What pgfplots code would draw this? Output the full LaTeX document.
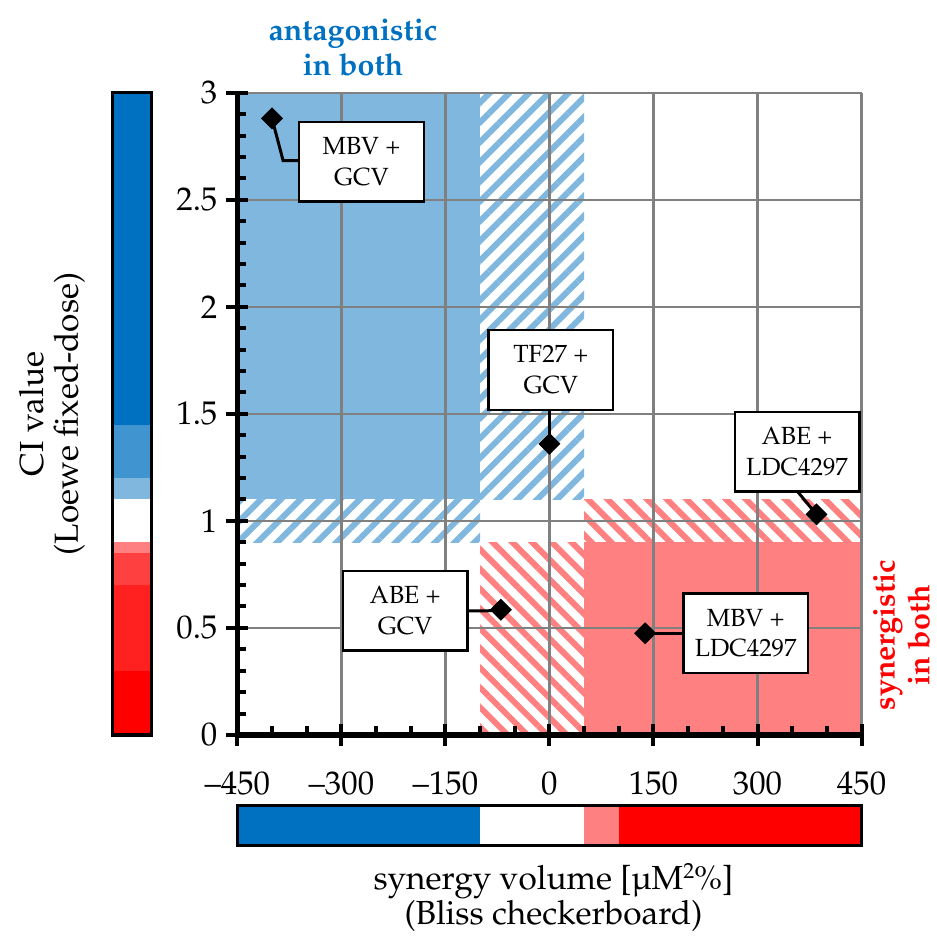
\documentclass[border=0pt]{standalone}
\usepackage[T1]{fontenc}
\usepackage{mathpazo}
\usepackage{pgfplots}
\pgfplotsset{compat=1.18}
\usetikzlibrary{patterns.meta}
\definecolor{cblue}{HTML}{0070C0}
\definecolor{lblue}{HTML}{7FB7DF}
\definecolor{mblue}{HTML}{4094D0}
\definecolor{lred}{HTML}{FF8080}
\definecolor{redb}{HTML}{FF4040}
\definecolor{redc}{HTML}{FF2020}
\definecolor{gridgray}{HTML}{808080}
\newcommand{\labfont}{\fontsize{16.8}{17.5}\selectfont}
\newcommand{\boldfont}{\fontsize{15.3}{17.5}\selectfont\bfseries}
\newcommand{\tickfont}{\fontsize{16.5}{18}\selectfont}
\newcommand{\boxfont}{\fontsize{12.5}{15.5}\selectfont}
\begin{document}
\begin{tikzpicture}
\path (0,0) rectangle (467bp,-469bp);
% main axis
\begin{axis}[
  set layers,
  at={(119bp,-368.5bp)}, anchor=south west,
  scale only axis, width=313bp, height=322bp,
  xmin=-450, xmax=450, ymin=0, ymax=3,
  axis x line=bottom, axis y line=left,
  axis line style={-, line width=2.6bp, black},
  xtick={-450,-300,-150,0,150,300,450},
  xticklabels={--450,--300,--150,0,150,300,450},
  ytick={0,0.5,1,1.5,2,2.5,3},
  yticklabels={0,0.5,1,1.5,2,2.5,3},
  extra x ticks={-400,-350,-250,-200,-100,-50,50,100,200,250,350,400},
  extra x tick labels={},
  extra y ticks={0.1,0.2,0.3,0.4,0.6,0.7,0.8,0.9,1.1,1.2,1.3,1.4,1.6,1.7,1.8,1.9,2.1,2.2,2.3,2.4,2.6,2.7,2.8,2.9},
  extra y tick labels={},
  extra x tick style={tick align=inside, major tick length=4.5bp, grid=none},
  extra y tick style={tick align=inside, major tick length=4.5bp, grid=none},
  tick align=center, major tick length=11bp,
  major tick style={line width=2bp, black},
  grid=major, major grid style={gridgray, line width=1.2bp},
  tick label style={font=\tickfont},
  xticklabel style={yshift=-9.5bp},
  yticklabel style={xshift=-1bp},
  clip=true,
]
% solid regions
\addplot[on layer=axis background, fill=lblue, draw=none] coordinates {(-450,1.1)(-100,1.1)(-100,3)(-450,3)};
\addplot[on layer=axis background, fill=lred, draw=none] coordinates {(50,0)(450,0)(450,0.9)(50,0.9)};
% hatched regions
\addplot[on layer=axis background, draw=none, pattern={Lines[angle=45,distance=7bp,line width=3bp]}, pattern color=lblue] coordinates {(-100,1.1)(50,1.1)(50,3)(-100,3)};
\addplot[on layer=axis background, draw=none, pattern={Lines[angle=45,distance=7bp,line width=3bp]}, pattern color=lblue] coordinates {(-450,0.9)(-100,0.9)(-100,1.1)(-450,1.1)};
\addplot[on layer=axis background, draw=none, pattern={Lines[angle=-45,distance=7bp,line width=3bp]}, pattern color=lred] coordinates {(-100,0)(50,0)(50,0.9)(-100,0.9)};
\addplot[on layer=axis background, draw=none, pattern={Lines[angle=-45,distance=7bp,line width=3bp]}, pattern color=lred] coordinates {(50,0.9)(450,0.9)(450,1.1)(50,1.1)};
% leader lines
\addplot[black, line width=1.5bp] coordinates {(-400,2.88)(-384,2.683)(-361,2.683)};
\addplot[black, line width=1.5bp] coordinates {(0,1.36)(0,1.52)};
\addplot[black, line width=1.5bp] coordinates {(385,1.03)(358,1.136)};
\addplot[black, line width=1.5bp] coordinates {(-70,0.585)(-88,0.58)(-118,0.58)};
\addplot[black, line width=1.5bp] coordinates {(138,0.475)(193,0.475)};
% points
\addplot[only marks, mark=square*, mark size=3.7bp, mark options={rotate=45, fill=black, draw=black}] coordinates {(-400,2.88)(0,1.36)(385,1.03)(-70,0.585)(138,0.475)};
% label boxes
\tikzset{lbox/.style={draw=black, fill=white, line width=1.2bp, minimum width=62.5bp, minimum height=40bp, inner sep=0pt, align=center, font=\boxfont}}
\node[lbox] at (axis cs:-271,2.678) {MBV +\\GCV};
\node[lbox] at (axis cs:2,1.705) {TF27 +\\GCV};
\node[lbox] at (axis cs:357,1.323) {ABE +\\LDC4297};
\node[lbox] at (axis cs:-208,0.58) {ABE +\\GCV};
\node[lbox] at (axis cs:283,0.475) {MBV +\\LDC4297};
\end{axis}
% left colour bar (CI)
\begin{axis}[
  at={(56.5bp,-368.5bp)}, anchor=south west,
  scale only axis, width=19.5bp, height=322bp,
  xmin=0, xmax=1, ymin=0, ymax=3,
  ticks=none, axis on top,
  axis line style={line width=1.7bp, black},
]
\addplot[fill=red, draw=none] coordinates {(0,0)(1,0)(1,0.3)(0,0.3)};
\addplot[fill=redc, draw=none] coordinates {(0,0.3)(1,0.3)(1,0.7)(0,0.7)};
\addplot[fill=redb, draw=none] coordinates {(0,0.7)(1,0.7)(1,0.85)(0,0.85)};
\addplot[fill=lred, draw=none] coordinates {(0,0.85)(1,0.85)(1,0.9)(0,0.9)};
\addplot[fill=white, draw=none] coordinates {(0,0.9)(1,0.9)(1,1.1)(0,1.1)};
\addplot[fill=lblue, draw=none] coordinates {(0,1.1)(1,1.1)(1,1.2)(0,1.2)};
\addplot[fill=mblue, draw=none] coordinates {(0,1.2)(1,1.2)(1,1.45)(0,1.45)};
\addplot[fill=cblue, draw=none] coordinates {(0,1.45)(1,1.45)(1,3)(0,3)};
\end{axis}
% bottom colour bar (Bliss)
\begin{axis}[
  at={(119bp,-424bp)}, anchor=south west,
  scale only axis, width=313bp, height=20bp,
  xmin=-450, xmax=450, ymin=0, ymax=1,
  ticks=none, axis on top,
  axis line style={line width=1.7bp, black},
]
\addplot[fill=cblue, draw=none] coordinates {(-450,0)(-100,0)(-100,1)(-450,1)};
\addplot[fill=white, draw=none] coordinates {(-100,0)(50,0)(50,1)(-100,1)};
\addplot[fill=lred, draw=none] coordinates {(50,0)(100,0)(100,1)(50,1)};
\addplot[fill=red, draw=none] coordinates {(100,0)(450,0)(450,1)(100,1)};
\end{axis}
% texts
\node[rotate=90, align=center, font=\labfont] at (26bp,-207.5bp) {CI value\\(Loewe fixed-dose)};
\node[align=center, font=\labfont] at (277.5bp,-450bp) {synergy volume [\textmu M{\fontsize{11}{11}\selectfont\raisebox{0.5em}{2}}\%]\\(Bliss checkerboard)};
\node[align=center, font=\boldfont, text=cblue] at (177bp,-24bp) {antagonistic\\in both};
\node[rotate=90, align=center, font=\boldfont, text=red] at (452bp,-318.5bp) {synergistic\\in both};
\end{tikzpicture}
\end{document}
